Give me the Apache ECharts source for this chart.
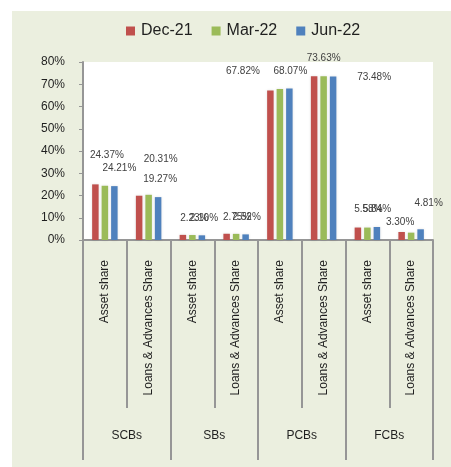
<!DOCTYPE html>
<html>
<head>
<meta charset="utf-8">
<style>
  html, body { margin: 0; padding: 0; background: #fff; }
  #chart { position: absolute; left: 12px; top: 11px; width: 439px; height: 456px; }
</style>
<script src="https://cdn.jsdelivr.net/npm/echarts/dist/echarts.min.js"></script>
</head>
<body>
<div id="chart"></div>
<script>
  // categories (sub) and bank groups
  var categories = ['Asset share', 'Loans & Advances Share', 'Asset share', 'Loans & Advances Share',
    'Asset share', 'Loans & Advances Share', 'Asset share', 'Loans & Advances Share'];
  var groups = ['SCBs', 'SBs', 'PCBs', 'FCBs'];
  var seriesNames = ['Dec-21', 'Mar-22', 'Jun-22'];

  // shares in %
  var dec21 = [25.0, 19.9, 2.3, 2.8, 67.2, 73.6, 5.6, 3.6];
  var mar22 = [24.37, 20.31, 2.23, 2.75, 67.82, 73.63, 5.58, 3.30];
  var jun22 = [24.21, 19.27, 2.10, 2.52, 68.07, 73.48, 5.84, 4.81];

  var yTicks = [0, 10, 20, 30, 40, 50, 60, 70, 80];

  // label nudges (the original has hand-moved labels)
  var nudgeMar = [[2, -14], [12, -19], [2, 0], [1, 0], [-37, -1], [0, -1], [1, -1], [-11, 7]];
  var nudgeJun = [[5, -1], [2, -1], [2, 0], [1, 0], [1, 0], [41, 18], [0, -1], [8, -9]];

  var colorList = ['#C0504D', '#9BBB59', '#4F81BD'];
  var axisGray = '#969696';
  var txt = '#1f1f1f';
  var font = '"Liberation Sans", Arial, sans-serif';

  function labelled(values, nudges) {
    return values.map(function (v, i) {
      return { value: v, label: { offset: nudges[i] } };
    });
  }

  var labelStyle = {
    show: true,
    position: 'top',
    distance: 11,
    fontSize: 10,
    lineHeight: 12,
    fontFamily: font,
    color: '#404040',
    formatter: function (p) { return p.value.toFixed(2) + '%'; }
  };

  var barBase = {
    type: 'bar',
    barWidth: 6.5,
    barGap: '46%',
    itemStyle: { shadowColor: 'rgba(0,0,0,0.12)', shadowBlur: 3 }
  };

  var chart = echarts.init(document.getElementById('chart'));
  chart.setOption({
    backgroundColor: '#EBEFDF',
    animation: false,
    textStyle: { fontFamily: font },
    legend: {
      left: 109,
      top: 7,
      itemWidth: 9,
      itemHeight: 9,
      itemGap: 19,
      selectedMode: false,
      icon: 'rect',
      textStyle: { fontSize: 16, color: txt, fontFamily: font, padding: [0, 0, 0, 1] },
      data: seriesNames
    },
    grid: {
      left: 71,
      top: 51,
      width: 350,
      height: 178,
      show: true,
      backgroundColor: '#fff',
      borderWidth: 0,
      containLabel: false,
      outerBoundsMode: 'none'
    },
    xAxis: [
      {
        type: 'category',
        data: categories,
        position: 'bottom',
        axisLine: { show: true, lineStyle: { color: axisGray, width: 2 } },
        axisTick: { show: true, interval: 0, length: 168, lineStyle: { color: axisGray, width: 2 } },
        axisLabel: { interval: 0, rotate: 90, margin: 20, fontSize: 12, color: txt, fontFamily: font },
        splitLine: { show: false }
      },
      {
        type: 'category',
        data: groups,
        position: 'bottom',
        axisLine: { show: false },
        axisTick: { show: true, interval: 0, length: 220, lineStyle: { color: axisGray, width: 2 } },
        axisLabel: { interval: 0, margin: 190, fontSize: 12, color: txt, fontFamily: font },
        splitLine: { show: false }
      }
    ],
    yAxis: {
      type: 'value',
      min: yTicks[0],
      max: yTicks[yTicks.length - 1],
      interval: 10,
      axisLine: { show: true, lineStyle: { color: axisGray, width: 2 } },
      axisTick: { show: true, length: 4, lineStyle: { color: axisGray, width: 1 } },
      axisLabel: { margin: 18, fontSize: 12, color: txt, fontFamily: font, formatter: '{value}%' },
      splitLine: { show: false }
    },
    series: [
      Object.assign({}, barBase, { name: seriesNames[0], data: dec21, itemStyle: Object.assign({ color: colorList[0] }, barBase.itemStyle) }),
      Object.assign({}, barBase, { name: seriesNames[1], data: labelled(mar22, nudgeMar), label: labelStyle, itemStyle: Object.assign({ color: colorList[1] }, barBase.itemStyle) }),
      Object.assign({}, barBase, { name: seriesNames[2], data: labelled(jun22, nudgeJun), label: labelStyle, itemStyle: Object.assign({ color: colorList[2] }, barBase.itemStyle) })
    ]
  });
</script>
</body>
</html>
